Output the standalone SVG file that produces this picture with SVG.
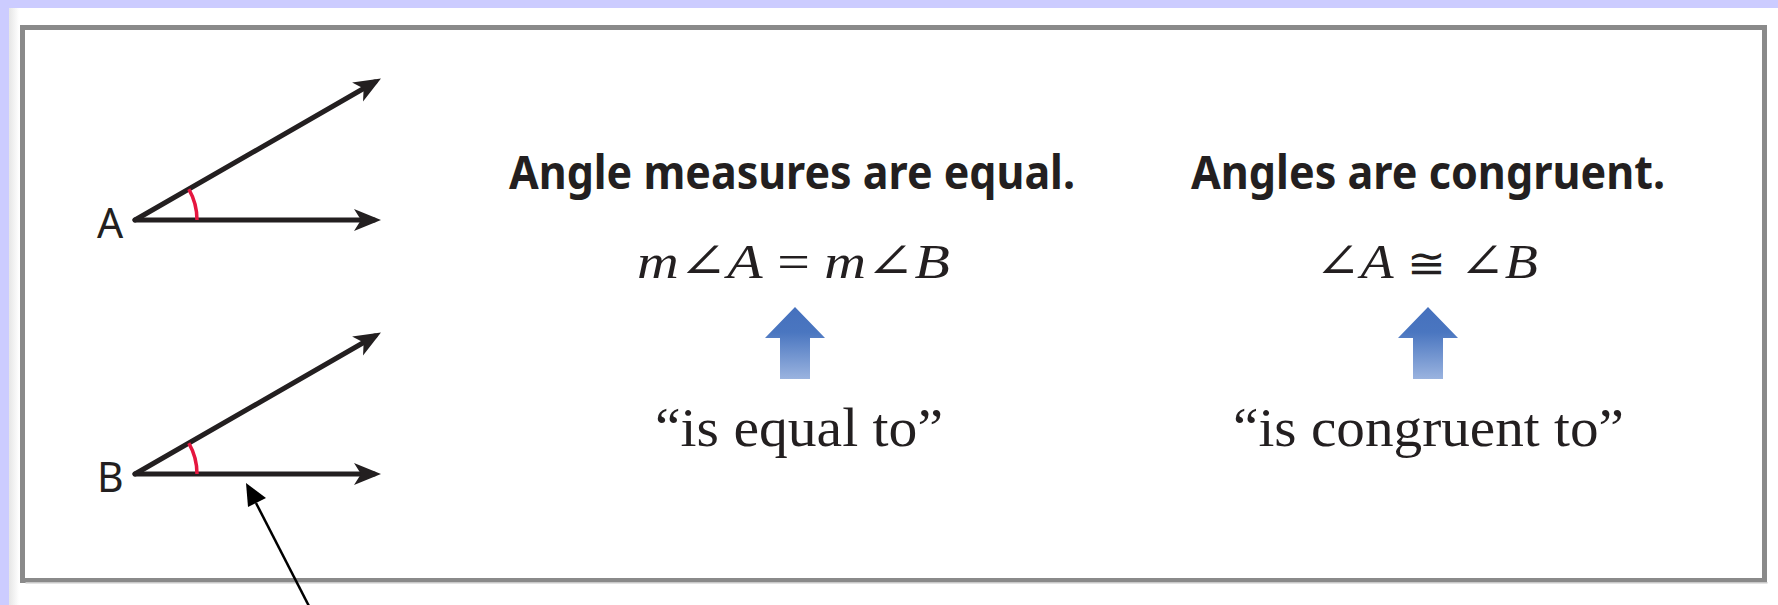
<svg xmlns="http://www.w3.org/2000/svg" width="1778" height="605" viewBox="0 0 1778 605">
<style>
.ray{stroke:#231f20;stroke-width:5;fill:none;stroke-linecap:round}
.arc{stroke:#e5163f;stroke-width:3.5;fill:none}
.lbl{font-family:"Noto Sans","Open Sans",sans-serif;font-size:41px;fill:#231f20}
.ttl{font-family:"Noto Sans","Open Sans",sans-serif;font-weight:bold;font-size:47px;fill:#231f20}
.fml{font-family:"Liberation Serif","DejaVu Serif",serif;font-size:49px;fill:#231f20}
.fml .i{font-style:italic}
.fml .c{font-size:42px}
.qt{font-family:"Liberation Serif","DejaVu Serif",serif;font-size:54px;fill:#231f20}
.blue{fill:url(#bg)}
</style>
<defs>
<marker id="barb" markerUnits="userSpaceOnUse" markerWidth="32" markerHeight="26" viewBox="0 0 32 26" refX="22" refY="13" orient="auto">
<path d="M2 2 L29 13 L2 24 L9 13 Z" fill="#231f20"/>
</marker>
<linearGradient id="bg" x1="0" y1="0" x2="0" y2="1">
<stop offset="0" stop-color="#4570bd"/>
<stop offset="0.35" stop-color="#4a76c0"/>
<stop offset="1" stop-color="#9ab3df"/>
</linearGradient>
<linearGradient id="lsh" x1="0" y1="0" x2="1" y2="0">
<stop offset="0" stop-color="#e6e6e6"/>
<stop offset="1" stop-color="#ffffff"/>
</linearGradient>
</defs>
<rect x="0" y="0" width="1778" height="605" fill="#ffffff"/>
<rect x="9" y="8" width="10" height="597" fill="url(#lsh)"/>
<rect x="0" y="0" width="1778" height="8" fill="#ccccff"/>
<rect x="0" y="0" width="9" height="605" fill="#ccccff"/>
<rect id="frame" x="22.5" y="27.5" width="1742" height="553" fill="none" stroke="#8a8a8a" stroke-width="5"/>
<rect x="25.5" y="582" width="1742" height="1.5" fill="#c8c8c8"/>

<g id="angleA">
<line class="ray" x1="135" y1="220" x2="374" y2="220" marker-end="url(#barb)"/>
<line class="ray" x1="135" y1="220" x2="374.9" y2="82" marker-end="url(#barb)"/>
<path class="arc" d="M197 220 A62 62 0 0 0 188.8 189.1"/>
<text class="lbl" x="97" y="238">A</text>
</g>
<g id="angleB">
<line class="ray" x1="135" y1="474" x2="374" y2="474" marker-end="url(#barb)"/>
<line class="ray" x1="135" y1="474" x2="374.9" y2="336" marker-end="url(#barb)"/>
<path class="arc" d="M197 474 A62 62 0 0 0 188.8 443.1"/>
<text class="lbl" x="97" y="492">B</text>
</g>

<g id="equal">
<text class="ttl" x="509" y="189" textLength="566" lengthAdjust="spacingAndGlyphs">Angle measures are equal.</text>
<text class="fml" x="637" y="278" textLength="313" lengthAdjust="spacingAndGlyphs"><tspan class="i">m</tspan>∠<tspan class="i">A</tspan> = <tspan class="i">m</tspan>∠<tspan class="i">B</tspan></text>
<path class="blue" d="M795 307 L825 338 L810 338 L810 379 L780 379 L780 338 L765 338 Z"/>
<text class="qt" x="655" y="446" textLength="288" lengthAdjust="spacingAndGlyphs">“is equal to”</text>
</g>
<g id="congruent">
<text class="ttl" x="1191" y="189" textLength="474" lengthAdjust="spacingAndGlyphs">Angles are congruent.</text>
<text class="fml" x="1315" y="278" textLength="223" lengthAdjust="spacingAndGlyphs">∠<tspan class="i">A</tspan> <tspan class="c">≅</tspan> ∠<tspan class="i">B</tspan></text>
<path class="blue" d="M1428 307 L1458 338 L1443 338 L1443 379 L1413 379 L1413 338 L1398 338 Z"/>
<text class="qt" x="1233" y="446" textLength="391" lengthAdjust="spacingAndGlyphs">“is congruent to”</text>
</g>

<g id="connectors">
<line x1="312" y1="612" x2="256" y2="503" stroke="#000" stroke-width="2.5"/>
<path d="M246 483 L266 498 L248 507 Z" fill="#000"/>
</g>
</svg>
